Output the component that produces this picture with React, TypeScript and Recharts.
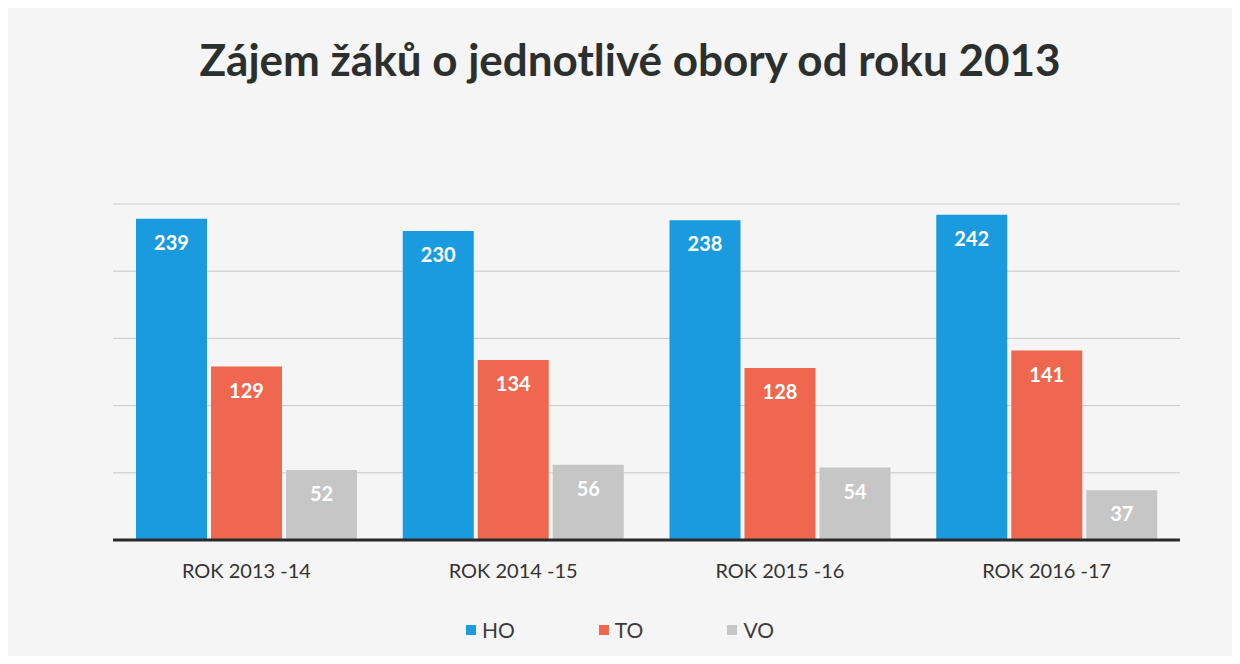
import { Bar, BarChart, CartesianGrid, LabelList, Legend, XAxis, YAxis } from "recharts";

const years = ["ROK 2013 -14", "ROK 2014 -15", "ROK 2015 -16", "ROK 2016 -17"];
const ho = [239, 230, 238, 242];
const to = [129, 134, 128, 141];
const vo = [52, 56, 54, 37];
const yTicks = [0, 50, 100, 150, 200, 250];

const series = [
  { key: "HO", color: "#1a9be0" },
  { key: "TO", color: "#f0674f" },
  { key: "VO", color: "#c6c6c6" },
];

const data = years.map((year, i) => ({ year, HO: ho[i], TO: to[i], VO: vo[i] }));

const font = "Lato, 'Open Sans', sans-serif";

function LegendRow() {
  return (
    <div style={{ display: "flex", justifyContent: "center", gap: 84, fontFamily: font, fontSize: 21, color: "#3c3c3c" }}>
      {series.map((s) => (
        <div key={s.key} style={{ display: "flex", alignItems: "center", gap: 6 }}>
          <span style={{ width: 10, height: 10, background: s.color, display: "inline-block" }} />
          <span>{s.key}</span>
        </div>
      ))}
    </div>
  );
}

export default function App() {
  return (
    <div style={{ position: "relative", width: 1240, height: 664, margin: -8, background: "#f5f5f5", overflow: "hidden" }}>
      <div
        style={{
          position: "absolute",
          top: 33,
          left: 0,
          width: 1260,
          textAlign: "center",
          fontFamily: font,
          fontWeight: 700,
          fontSize: 44,
          color: "#2b302f",
        }}
      >
        Zájem žáků o jednotlivé obory od roku 2013
      </div>
      <BarChart width={1240} height={664} data={data} margin={{ top: 204, right: 60, left: 113, bottom: 94 }} barGap={4}>
        <CartesianGrid stroke="#c9c9c9" vertical={false} />
        <XAxis
          dataKey="year"
          axisLine={{ stroke: "#2a2a2a", strokeWidth: 3 }}
          tickLine={false}
          tickSize={0}
          tickMargin={24}
          height={30}
          tick={{ fill: "#333", fontSize: 20, fontFamily: font }}
        />
        <YAxis hide domain={[0, 250]} ticks={yTicks} />
        <Legend
          verticalAlign="middle"
          align="center"
          wrapperStyle={{ top: 617, left: 0, width: 1240 }}
          content={() => <LegendRow />}
        />
        {series.map((s) => (
          <Bar key={s.key} dataKey={s.key} fill={s.color} barSize={71} isAnimationActive={false}>
            <LabelList dataKey={s.key} position="insideTop" offset={17} fill="#fff" fontSize={20} fontWeight={700} fontFamily={font} />
          </Bar>
        ))}
      </BarChart>
    </div>
  );
}
